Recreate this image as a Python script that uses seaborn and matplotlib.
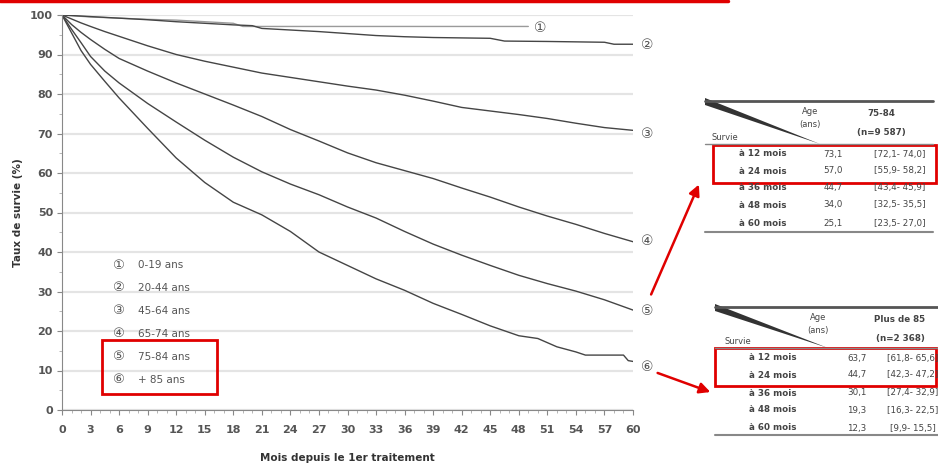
import pandas as pd
import matplotlib.pyplot as plt
import seaborn as sns
from matplotlib.lines import Line2D
from matplotlib.patches import Rectangle, Polygon, FancyArrowPatch
from matplotlib.ticker import MultipleLocator

# =========================
# DATA
# =========================
groupes = ["0-19 ans", "20-44 ans", "45-64 ans", "65-74 ans", "75-84 ans", "+ 85 ans"]
symboles = ["①", "②", "③", "④", "⑤", "⑥"]

mois_1 = [0, 3, 6, 9, 12, 15, 18, 19, 30, 40, 49]
surv_1 = [100, 99.5, 99.2, 98.9, 98.7, 98.3, 97.9, 97.1, 97.1, 97.1, 97.1]

mois_2 = [0, 3, 6, 9, 12, 15, 18, 20, 21, 24, 27, 30, 33, 36, 39, 42, 45, 46.5, 51, 54, 57, 58, 60]
surv_2 = [100, 99.6, 99.2, 98.8, 98.3, 97.9, 97.5, 97.3, 96.6, 96.2, 95.8, 95.3, 94.8, 94.5,
          94.3, 94.2, 94.1, 93.4, 93.3, 93.2, 93.1, 92.6, 92.6]

mois = [0, 1, 2, 3, 4.5, 6, 9, 12, 15, 18, 21, 24, 27, 30, 33, 36, 39, 42, 45, 48, 51, 54, 57, 60]
surv_3 = [100, 99.0, 98.0, 97.1, 95.8, 94.6, 92.2, 90.0, 88.3, 86.8, 85.3, 84.2, 83.1, 82.0,
          81.0, 79.7, 78.2, 76.6, 75.7, 74.8, 73.8, 72.6, 71.5, 70.8]
surv_4 = [100, 97.6, 95.6, 93.8, 91.3, 89.0, 85.8, 82.8, 80.0, 77.2, 74.3, 71.0, 68.1, 65.1,
          62.6, 60.6, 58.6, 56.2, 53.9, 51.4, 49.1, 47.0, 44.7, 42.6]
surv_5 = [100, 96.4, 93.0, 89.5, 85.8, 82.8, 77.6, 72.9, 68.3, 64.0, 60.3, 57.2, 54.5, 51.4,
          48.6, 45.2, 42.0, 39.2, 36.6, 34.1, 32.0, 30.1, 27.9, 25.3]

mois_6 = [0, 1, 2, 3, 4.5, 6, 9, 12, 15, 18, 21, 24, 27, 30, 33, 36, 39, 42, 45, 48, 50, 52,
          54, 55, 59, 59.5, 60]
surv_6 = [100, 95.5, 91.0, 87.5, 83.2, 79.0, 71.3, 63.8, 57.6, 52.6, 49.4, 45.2, 40.0, 36.6,
          33.2, 30.3, 27.0, 24.2, 21.3, 18.8, 18.1, 16.0, 14.7, 13.9, 13.9, 12.5, 12.3]

# tables
lignes = ["à 12 mois", "à 24 mois", "à 36 mois", "à 48 mois", "à 60 mois"]
t75_val = ["73,1", "57,0", "44,7", "34,0", "25,1"]
t75_ic = ["[72,1- 74,0]", "[55,9- 58,2]", "[43,4- 45,9]", "[32,5- 35,5]", "[23,5- 27,0]"]
t85_val = ["63,7", "44,7", "30,1", "19,3", "12,3"]
t85_ic = ["[61,8- 65,6]", "[42,3- 47,2]", "[27,4- 32,9]", "[16,3- 22,5]", "[9,9- 15,5]"]

series = [(mois_1, surv_1), (mois_2, surv_2), (mois, surv_3),
          (mois, surv_4), (mois, surv_5), (mois_6, surv_6)]
df = pd.concat([pd.DataFrame({"mois": m, "survie": s, "groupe": g})
                for (m, s), g in zip(series, groupes)], ignore_index=True)

# =========================
# STYLE
# =========================
sns.set_style("white")
plt.rcParams['font.family'] = ['DejaVu Sans', 'Noto Sans CJK JP']

W, H = 938, 467
fig = plt.figure(figsize=(W / 100, H / 100), dpi=100)


def fx(x):
    return x / W


def fy(y):
    return 1 - y / H


ax = fig.add_axes([fx(62), fy(410), (633 - 62) / W, (410 - 15) / H])

palette = {g: "#454545" for g in groupes}
palette["0-19 ans"] = "#9a9a9a"
sns.lineplot(data=df, x="mois", y="survie", hue="groupe", palette=palette,
             estimator=None, legend=False, linewidth=1.0, ax=ax)

ax.set_xlim(0, 60)
ax.set_ylim(0, 100)
ax.xaxis.set_major_locator(MultipleLocator(3))
ax.xaxis.set_minor_locator(MultipleLocator(1))
ax.yaxis.set_major_locator(MultipleLocator(10))
ax.yaxis.set_minor_locator(MultipleLocator(5))
ax.tick_params(axis="both", which="both", bottom=True, left=True)
ax.tick_params(axis="both", which="major", direction="out", length=3.5, width=0.8,
               color="#888", labelsize=8, labelcolor="#555")
ax.tick_params(axis="x", which="major", pad=7)
ax.tick_params(axis="y", which="major", pad=3)
ax.tick_params(which="minor", direction="out", length=2, width=0.6, color="#aaa")
for lab in ax.get_xticklabels() + ax.get_yticklabels():
    lab.set_fontweight("bold")

ax.yaxis.grid(True, color="#e4e4e4", lw=1.6)
ax.set_axisbelow(True)
sns.despine(ax=ax)
for sp in ["left", "bottom"]:
    ax.spines[sp].set_color("#888")
    ax.spines[sp].set_linewidth(0.8)

ax.set_ylabel("Taux de survie (%)", fontsize=7.5, fontweight="bold", color="#333")
ax.yaxis.set_label_coords(-(62 - 23) / 571, 0.5)
ax.set_xlabel("Mois depuis le 1er traitement", fontsize=7.5, fontweight="bold", color="#333")
ax.xaxis.set_label_coords(0.5, -(453 - 410) / 395)

# circled labels at curve ends
decal = [(1.3, -0.3), (1.5, -0.2), (1.5, -0.9), (1.5, 0.2), (1.5, -0.3), (1.5, -1.3)]
for (m, s), sym, (dx, dy) in zip(series, symboles, decal):
    ax.text(m[-1] + dx, s[-1] + dy, sym, fontsize=10, color="#555",
            ha="center", va="center", clip_on=False)

# legend block
for i, (sym, g) in enumerate(zip(symboles, groupes)):
    yv = 36.7 - i * 5.8
    ax.text(5.9, yv, sym, fontsize=9.5, color="#555", ha="center", va="center")
    ax.text(8.0, yv, g, fontsize=7.5, color="#555", ha="left", va="center")

# =========================
# TABLES
# =========================
tc = "#444"


def table(x0, x1, top, hdr, bot, rows_y, xl, xv, xi, titre, n, vals, ics, age_x, surv_x):
    fig.add_artist(Line2D([fx(x0), fx(x1)], [fy(top), fy(top)], color="#555", lw=2))
    fig.add_artist(Line2D([fx(x0), fx(x1)], [fy(hdr), fy(hdr)], color="#888", lw=1))
    fig.add_artist(Line2D([fx(x0), fx(x1)], [fy(bot), fy(bot)], color="#888", lw=1.5))
    fig.add_artist(Polygon([(fx(x0), fy(top - 3)), (fx(x0), fy(top + 4)),
                            (fx(age_x + 10), fy(hdr))], closed=True,
                           transform=fig.transFigure, color="#333", lw=0))
    fig.text(fx(age_x), fy(top + 10), "Age", fontsize=6, color=tc, ha="center", va="center")
    fig.text(fx(age_x), fy(top + 23), "(ans)", fontsize=6, color=tc, ha="center", va="center")
    fig.text(fx(surv_x), fy(hdr - 6), "Survie", fontsize=6, color=tc, ha="center", va="center")
    fig.text(fx((xv + xi) / 2 + 15), fy(top + 12), titre, fontsize=6.3, color=tc,
             ha="center", va="center", fontweight="bold")
    fig.text(fx((xv + xi) / 2 + 15), fy(top + 31), n, fontsize=6.3, color=tc,
             ha="center", va="center", fontweight="bold")
    for yy, lab, v, ic in zip(rows_y, lignes, vals, ics):
        fig.text(fx(xl), fy(yy), lab, fontsize=6.3, color=tc, ha="center", va="center",
                 fontweight="bold")
        fig.text(fx(xv), fy(yy), v, fontsize=6.3, color=tc, ha="center", va="center")
        fig.text(fx(xi), fy(yy), ic, fontsize=6.3, color=tc, ha="center", va="center")


table(705, 933, 101, 144, 232, [154, 171, 188, 205, 223], 763, 833, 900,
      "75-84", "(n=9 587)", t75_val, t75_ic, 810, 725)
table(715, 938, 307, 348, 435, [358, 375, 393, 410, 428], 773, 857, 913,
      "Plus de 85", "(n=2 368)", t85_val, t85_ic, 818, 738)

# =========================
# RED ANNOTATIONS
# =========================
def boite(x0, y0, x1, y1):
    fig.add_artist(Rectangle((fx(x0), fy(y1)), fx(x1) - fx(x0), fy(y0) - fy(y1),
                             transform=fig.transFigure, fill=False,
                             edgecolor="#e00000", lw=2))


boite(102, 340, 217, 394)
boite(713, 145, 936, 183)
boite(715, 348, 936, 386)

fig.add_artist(Line2D([0, fx(728)], [fy(1), fy(1)], color="#e00000", lw=2.5))

for (xa, ya), (xb, yb) in [((650, 297), (700, 182)), ((655, 372), (713, 393))]:
    fig.add_artist(FancyArrowPatch((fx(xa), fy(ya)), (fx(xb), fy(yb)),
                                   transform=fig.transFigure, arrowstyle="-|>",
                                   mutation_scale=16, color="#e00000", lw=1.8))

plt.savefig("out.png", dpi=100)
plt.close()
